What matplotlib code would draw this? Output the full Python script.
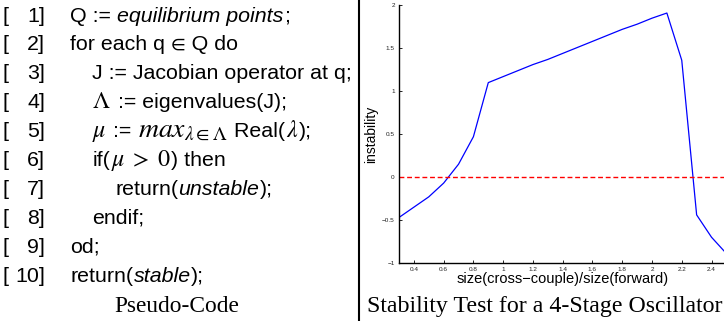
import matplotlib
matplotlib.use("Agg")
import matplotlib.pyplot as plt
from matplotlib.lines import Line2D

plt.rcParams['mathtext.fontset'] = 'stix'

# pseudo-code lines: (line number, indent level, segments)
code_numbers = [1, 2, 3, 4, 5, 6, 7, 8, 9, 10]
code_indent = [0, 0, 1, 1, 1, 1, 2, 1, 0, 0]
code_segments = [
    [("Q := ", "normal"), ("equilibrium points", "italic"), (";", "normal")],
    [("for each q \u2208 Q do", "normal")],
    [("J := Jacobian operator at q;", "normal")],
    [(r"$\mathit{\Lambda}$", "math"), (" := eigenvalues(J);", "normal")],
    [(r"$\mu$", "math"), (" := ", "normal"), (r"$max_{\lambda \in \mathit{\Lambda}}$", "bigmath"),
     (" Real(", "normal"), (r"$\lambda$", "math"), (");", "normal")],
    [("if(", "normal"), (r"$\mu\;>\;0$", "math"), (") then", "normal")],
    [("return(", "normal"), ("unstable", "italic"), (");", "normal")],
    [("endif;", "normal")],
    [("od;", "normal")],
    [("return(", "normal"), ("stable", "italic"), (");", "normal")],
]
left_caption = "Pseudo-Code"
right_caption = "Stability Test for a 4-Stage Oscillator"

# stability sweep
ratio = [0.3, 0.4, 0.5, 0.6, 0.7, 0.8, 0.9, 1.0, 1.1, 1.2, 1.3, 1.4,
         1.5, 1.6, 1.7, 1.8, 1.9, 2.0, 2.1, 2.2, 2.3, 2.4, 2.5]
instability = [-0.47, -0.35, -0.23, -0.07, 0.15, 0.47, 1.10, 1.17, 1.24, 1.31, 1.37, 1.44,
               1.51, 1.58, 1.65, 1.72, 1.78, 1.85, 1.91, 1.36, -0.44, -0.70, -0.89]
xticks = [0.4, 0.6, 0.8, 1.0, 1.2, 1.4, 1.6, 1.8, 2.0, 2.2, 2.4]
xtick_labels = ["0.4", "0.6", "0.8", "1", "1.2", "1.4", "1.6", "1.8", "2", "2.2", "2.4"]
yticks = [-1, -0.5, 0, 0.5, 1, 1.5, 2]
ytick_labels = ["\u22121", "\u22120.5", "0", "0.5", "1", "1.5", "2"]

W, H = 724, 321
fig = plt.figure(figsize=(W / 100, H / 100), dpi=100)
renderer = fig.canvas.get_renderer()

SANS = ["Liberation Sans", "STIXGeneral"]
SERIF = "Liberation Serif"
FS = 15.4
scale = {"normal": 1.0, "italic": 1.0, "math": 1.12, "bigmath": 1.3}


def px(x, y):
    return x / W, 1 - y / H


# left panel: pseudo-code
line_gap = 28.9
for i, (n, lvl, segs) in enumerate(zip(code_numbers, code_indent, code_segments)):
    yb = 21.5 + i * line_gap
    fig.text(*px(2, yb), "[", family=SANS, fontsize=FS, va="baseline")
    fig.text(*px(45, yb), f"{n}]", family=SANS, fontsize=FS, va="baseline", ha="right")
    x = 70 + 22.5 * lvl
    for s, kind in segs:
        style = "italic" if kind == "italic" else "normal"
        t = fig.text(*px(x, yb), s, family=SANS, fontsize=FS * scale[kind],
                     fontstyle=style, va="baseline")
        x = t.get_window_extent(renderer).x1 + 0.5

fig.text(*px(177, 312), left_caption, family=SERIF, fontsize=16.8, ha="center", va="baseline")
fig.text(*px(545, 312), right_caption, family=SERIF, fontsize=17.2, ha="center", va="baseline")

# separator
fig.add_artist(Line2D([359 / W, 359 / W], [0, 1], color="black", lw=1.5,
                      transform=fig.transFigure))

# right panel: stability plot
ax = fig.add_axes([399 / W, 58 / H, 327.4 / W, 257.7 / H])
ax.plot(ratio, instability, color="#0000ff", lw=0.9)
ax.axhline(0, color="#ff0000", lw=1.0, dashes=(3.5, 2))
ax.set_xlim(0.3, 2.5)
ax.set_ylim(-1, 2)
ax.set_xticks(xticks)
ax.set_xticklabels(xtick_labels)
ax.set_yticks(yticks)
ax.set_yticklabels(ytick_labels)
ax.tick_params(direction="in", length=2.5, width=0.6, labelsize=4.6, pad=3,
               labelcolor="#222222")
for lab in ax.get_xticklabels() + ax.get_yticklabels():
    lab.set_family(SANS)
ax.spines["top"].set_visible(False)
ax.spines["right"].set_visible(False)
ax.spines["left"].set_linewidth(1.0)
ax.spines["bottom"].set_linewidth(1.0)
ax.set_xlabel("size(cross\u2212couple)/size(forward)", family=SANS, fontsize=10.5, labelpad=0)
ax.set_ylabel("instability", family=SANS, fontsize=10)
ax.yaxis.set_label_coords(-0.064, 0.5)
ax.patch.set_visible(False)

fig.savefig("out.png", dpi=100)
